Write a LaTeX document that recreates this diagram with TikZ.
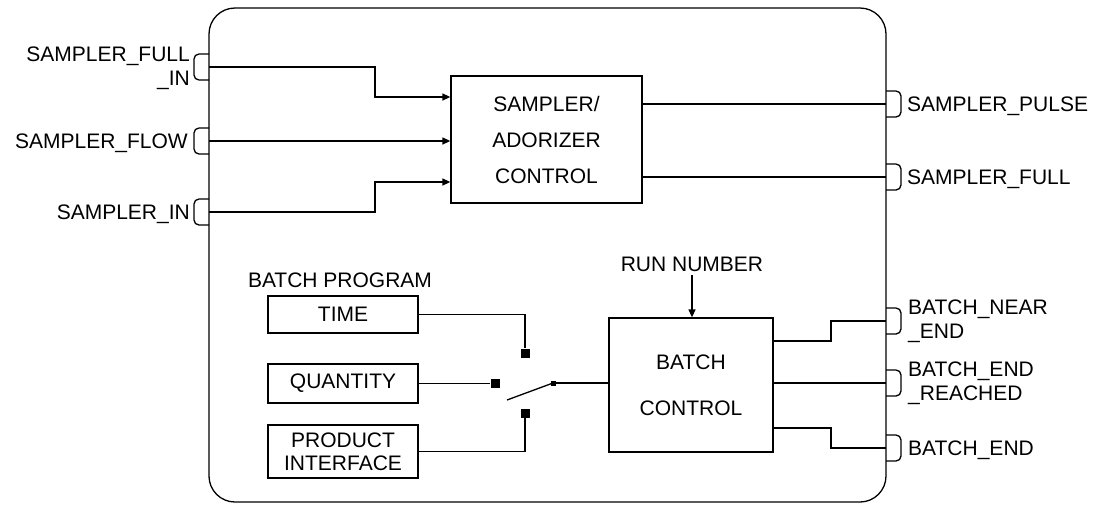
\documentclass[tikz,border=0pt]{standalone}
\usepackage{fontspec}
\setmainfont{Liberation Sans}
\usetikzlibrary{arrows.meta}
\tikzset{
  sig/.style={line width=1.3pt},
  arr/.style={sig, -{Triangle[length=8pt,width=7pt]}},
  blk/.style={draw, line width=1.3pt, inner sep=0pt, align=center},
  lbl/.style={inner sep=0pt},
  lbln/.style={inner sep=0pt, text height=15pt, text depth=0pt},
  term/.style={fill, inner sep=0pt, minimum size=9pt},
  inport/.pic={\draw[sig, rounded corners=5pt] (0,-13) -- (-15,-13) -- (-15,13) -- (0,13);},
  outport/.pic={\draw[sig, rounded corners=5pt] (0,-13) -- (15,-13) -- (15,13) -- (0,13);},
}
\begin{document}
\begin{tikzpicture}[x=1pt, y=-1pt, font=\fontsize{21}{24}\selectfont]
\useasboundingbox (0,0) rectangle (1104,504);
\draw[sig, rounded corners=26pt] (209,8) rectangle (886,502);

\coordinate (pFI) at (209,67);
\coordinate (pFL) at (209,141);
\coordinate (pIN) at (209,212);
\coordinate (pSP) at (886,104);
\coordinate (pSF) at (886,177);
\coordinate (pNE) at (886,321);
\coordinate (pER) at (886,383);
\coordinate (pBE) at (886,448);
\foreach \p in {pFI,pFL,pIN} \pic at (\p) {inport};
\foreach \p in {pSP,pSF,pNE,pER,pBE} \pic at (\p) {outport};

\node[lbl, anchor=east, align=right] (lFI) at (190,68) {SAMPLER\_FULL\\\_IN};
\node[lbln, anchor=east] (lFL) at (188,141) {SAMPLER\_FLOW};
\node[lbln, anchor=east] (lIN) at (190,212) {SAMPLER\_IN};
\node[lbln, anchor=west] (lSP) at (907,104) {SAMPLER\_PULSE};
\node[lbln, anchor=west] (lSF) at (907,177) {SAMPLER\_FULL};
\node[lbl, anchor=west, align=left] (lNE) at (908,321) {BATCH\_NEAR\\\_END};
\node[lbl, anchor=west, align=left] (lER) at (908,383) {BATCH\_END\\\_REACHED};
\node[lbln, anchor=west] (lBE) at (908,448) {BATCH\_END};

\node[blk, minimum width=191pt, minimum height=127pt, font=\fontsize{21}{36}\selectfont] (smp) at (546.5,139.5) {SAMPLER/\\ADORIZER\\CONTROL};
\node[blk, minimum width=164pt, minimum height=134pt, font=\fontsize{21}{46}\selectfont] (bc) at (691,385) {BATCH\\CONTROL};
\node[blk, minimum width=150pt, minimum height=37pt] (time) at (343,314.5) {TIME};
\node[blk, minimum width=150pt, minimum height=39pt] (qty) at (343,383.5) {QUANTITY};
\node[blk, minimum width=150pt, minimum height=53pt, font=\fontsize{21}{23}\selectfont] (prod) at (343,451.5) {PRODUCT\\INTERFACE};
\node (prog) at (340,280) {BATCH PROGRAM};
\node (run) at (692,264) {RUN NUMBER};

\node[term] (tT) at (525,353) {};
\node[term] (tQ) at (495,383.5) {};
\node[term] (tP) at (525,413) {};
\node[term, minimum size=5pt] (piv) at (553,383) {};
\coordinate (arm) at (507,400);

\draw[sig] (time.east) -| (tT);
\draw[sig] (qty.east) -- (tQ);
\draw[sig] (prod.east) -| (tP);
\draw[sig] (arm) -- (piv.center);
\draw[sig] (piv) -- (piv -| bc.west);

\coordinate (j1) at (375,97);
\coordinate (j3) at (375,182);
\draw[arr] (pFI) -| (j1) -- (j1 -| smp.west);
\draw[arr] (pFL) -- (pFL -| smp.west);
\draw[arr] (pIN) -| (j3) -- (j3 -| smp.west);
\draw[sig] (pSP -| smp.east) -- (pSP);
\draw[sig] (pSF -| smp.east) -- (pSF);

\coordinate (k1) at (831,341);
\coordinate (k3) at (831,428);
\draw[sig] (k1 -| bc.east) -- (k1) |- (pNE);
\draw[sig] (pER -| bc.east) -- (pER);
\draw[sig] (k3 -| bc.east) -- (k3) |- (pBE);
\draw[arr] (run) -- (run |- bc.north);
\end{tikzpicture}
\end{document}
